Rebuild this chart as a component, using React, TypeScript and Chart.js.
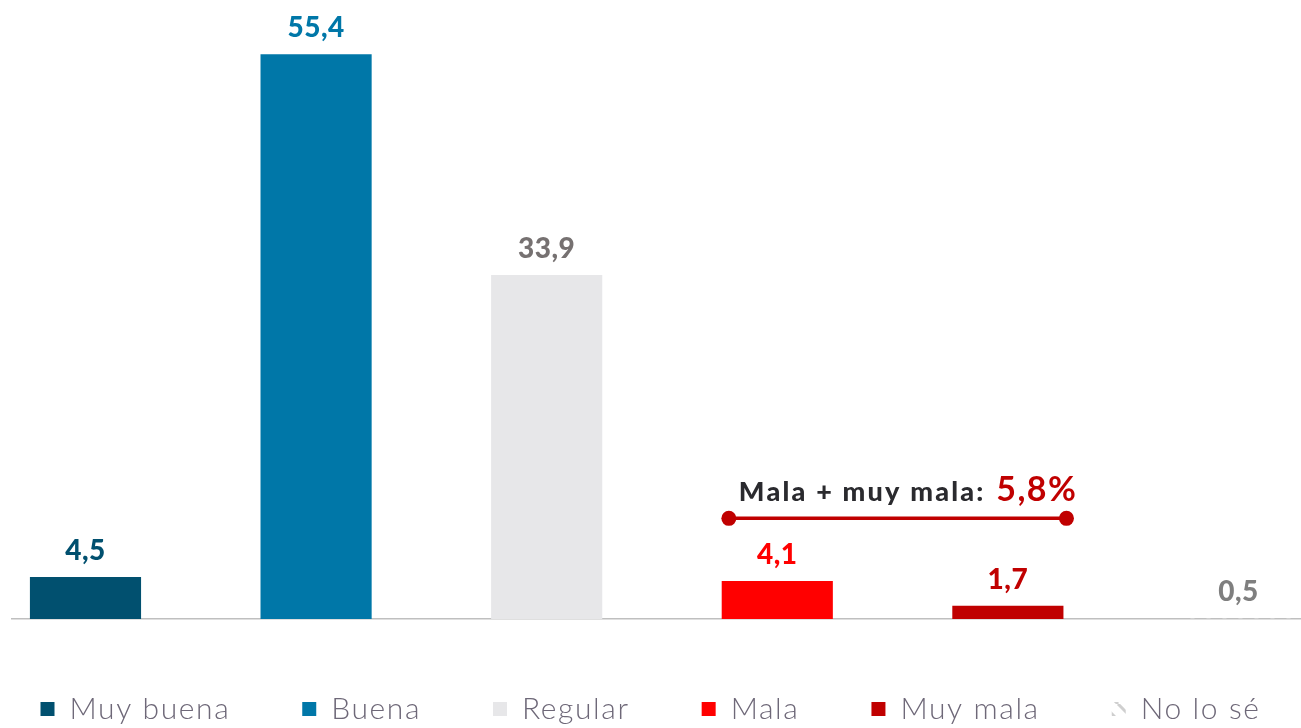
import React, { useEffect, useRef } from "react";
import { Chart, registerables } from "chart.js";

Chart.register(...registerables);

// ---- data ----
const categories = ["Muy buena", "Buena", "Regular", "Mala", "Muy mala", "No lo sé"];
const values = [4.5, 55.4, 33.9, 4.1, 1.7, 0.5];
const barColors = ["#01506F", "#0077A8", "#E7E7E9", "#FF0000", "#C00000", "hatch"];
const labelColors = ["#01506F", "#0077A8", "#767171", "#FF0000", "#C00000", "#7F7F7F"];
const groupIndexes = [3, 4];
const groupTitle = "Mala + muy mala:";

const fmt = (v: number) => v.toFixed(1).replace(".", ",");

// canvas is wider than the window (clipped) so the legend has room on one row
const CANVAS_W = 1401;
const CANVAS_SHIFT = 50;

function makeHatch(): CanvasPattern | string {
  const c = document.createElement("canvas");
  c.width = 16;
  c.height = 16;
  const g = c.getContext("2d");
  if (!g) return "#D0D0D0";
  g.strokeStyle = "#CFCFCF";
  g.lineWidth = 3;
  for (const x0 of [-16, 0, 16]) {
    g.beginPath();
    g.moveTo(x0, 0);
    g.lineTo(x0 + 16, 16);
    g.stroke();
  }
  return g.createPattern(c, "repeat") || "#D0D0D0";
}

export default function App() {
  const ref = useRef<HTMLCanvasElement | null>(null);

  useEffect(() => {
    if (!ref.current) return;
    const hatch = makeHatch();
    const colors = barColors.map((c) => (c === "hatch" ? hatch : c));

    const spacingPlugin = {
      id: "legendSpacing",
      beforeLayout(chart: any) {
        chart.ctx.letterSpacing = "1.6px";
      },
      beforeDraw(chart: any) {
        chart.ctx.letterSpacing = "1.6px";
      },
    };

    const labelPlugin = {
      id: "valueLabels",
      afterDatasetsDraw(chart: any) {
        const { ctx } = chart;
        const meta = chart.getDatasetMeta(0);
        ctx.save();
        ctx.letterSpacing = "0.5px";
        ctx.font = "900 28px Lato";
        ctx.textAlign = "center";
        ctx.textBaseline = "alphabetic";
        meta.data.forEach((bar: any, i: number) => {
          ctx.fillStyle = labelColors[i];
          ctx.fillText(fmt(values[i]), bar.x, bar.y - 17);
        });
        ctx.restore();
      },
    };

    const groupPlugin = {
      id: "groupBracket",
      afterDatasetsDraw(chart: any) {
        const { ctx, scales } = chart;
        const xs = scales.x;
        const ys = scales.y;
        const x1 = xs.getPixelForValue(groupIndexes[0] - 0.21);
        const x2 = xs.getPixelForValue(groupIndexes[1] + 0.254);
        const yy = ys.getPixelForValue(10.2);
        ctx.save();
        ctx.strokeStyle = "#C00000";
        ctx.fillStyle = "#C00000";
        ctx.lineWidth = 3.5;
        ctx.beginPath();
        ctx.moveTo(x1, yy);
        ctx.lineTo(x2, yy);
        ctx.stroke();
        for (const px of [x1, x2]) {
          ctx.beginPath();
          ctx.arc(px, yy, 7.5, 0, Math.PI * 2);
          ctx.fill();
        }
        const total = groupIndexes.reduce((s, i) => s + values[i], 0);
        ctx.textAlign = "left";
        ctx.textBaseline = "alphabetic";
        ctx.letterSpacing = "2.2px";
        ctx.font = "900 27px Lato";
        ctx.fillStyle = "#2A2A2E";
        const tx = x1 + 10;
        const ty = yy - 17;
        ctx.fillText(groupTitle + " ", tx, ty);
        const w = ctx.measureText(groupTitle + " ").width;
        ctx.letterSpacing = "1.5px";
        ctx.font = "bold 34px Lato";
        ctx.fillStyle = "#C00000";
        ctx.fillText(fmt(total) + "%", tx + w + 2, ty);
        ctx.restore();
      },
    };

    const chart = new Chart(ref.current, {
      type: "bar",
      data: {
        datasets: [
          {
            data: values.map((v, i) => ({ x: i, y: v })),
            backgroundColor: colors as any,
            borderWidth: 0,
            categoryPercentage: 1,
            barPercentage: 0.482,
          },
        ],
      },
      options: {
        responsive: false,
        animation: false,
        layout: { padding: { left: 0, right: 0, top: 7, bottom: -6 } },
        scales: {
          x: {
            type: "linear",
            offset: false,
            min: -0.3187,
            max: 5.488,
            grid: { display: false, tickLength: 3 },
            ticks: { display: false, stepSize: 1, includeBounds: false },
            border: { display: true, color: "#BFBFBF", width: 1.5 },
          },
          y: {
            display: true,
            min: 0.4,
            max: 60,
            grid: { display: false },
            ticks: { display: false },
            border: { display: false },
            afterFit: (scale: any) => {
              scale.width = 62;
            },
          },
        },
        plugins: {
          tooltip: { enabled: false },
          legend: {
            position: "bottom",
            onClick: () => {},
            labels: {
              boxWidth: 14,
              boxHeight: 14,
              padding: 72,
              color: "#6E6878",
              font: { family: "Lato", size: 30, weight: "300" as any },
              generateLabels: () =>
                categories.map((c, i) => ({
                  text: c,
                  fillStyle: colors[i] as any,
                  strokeStyle: colors[i] as any,
                  lineWidth: 0,
                  hidden: false,
                  index: i,
                  fontColor: "#6E6878",
                })),
            },
          },
        },
      },
      plugins: [spacingPlugin, labelPlugin, groupPlugin],
    });
    return () => chart.destroy();
  }, []);

  return (
    <div
      style={{
        position: "absolute",
        left: 0,
        top: 0,
        width: 1301,
        height: 728,
        overflow: "hidden",
        background: "#fff",
      }}
    >
      <canvas
        ref={ref}
        width={CANVAS_W}
        height={728}
        style={{ position: "absolute", left: -CANVAS_SHIFT, top: 0 }}
      />
    </div>
  );
}
